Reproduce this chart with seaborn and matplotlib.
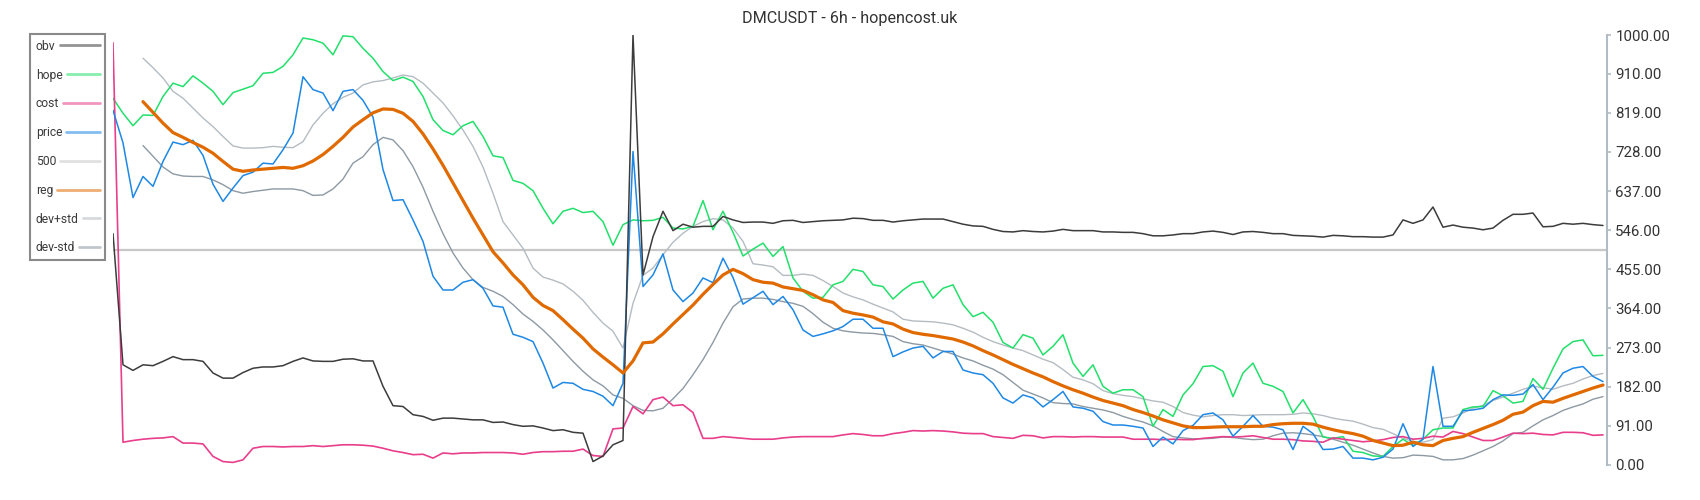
import numpy as np
import matplotlib
matplotlib.use("Agg")
import matplotlib.pyplot as plt
import seaborn as sns
from matplotlib.legend_handler import HandlerLine2D

nan = np.nan

# ---------------- data (one sample every ~2 candles) ----------------
obv = [538, 233, 220, 233, 231, 241, 252, 245, 245, 241, 214, 202, 202, 215, 225, 228, 228, 231, 241, 249, 242, 241, 241, 246, 247,
       242, 242, 183, 138, 136, 117, 113, 104, 109, 109, 107, 105, 105, 99, 100, 94, 90, 91, 86, 80, 82, 76, 74, 8, 21,
       47, 57, 1000, 442, 531, 590, 545, 560, 553, 555, 555, 578, 570, 564, 565, 565, 562, 568, 569, 564, 566, 568, 569, 570, 574,
       573, 569, 569, 565, 568, 570, 572, 572, 572, 566, 560, 556, 555, 548, 543, 542, 545, 543, 542, 544, 548, 545, 545, 545, 542,
       542, 541, 541, 538, 533, 533, 535, 538, 538, 542, 544, 541, 536, 542, 543, 541, 538, 538, 534, 533, 532, 530, 534, 533, 531,
       531, 530, 530, 535, 570, 562, 570, 600, 553, 558, 553, 551, 547, 551, 569, 583, 583, 586, 554, 555, 562, 560, 562, 559, 557]

hope = [853, 818, 789, 814, 813, 857, 888, 880, 905, 888, 869, 838, 866, 874, 882, 911, 913, 927, 954, 993, 989, 981, 954, 998, 996,
        969, 946, 915, 894, 902, 892, 857, 803, 778, 768, 789, 799, 764, 719, 715, 662, 655, 638, 597, 561, 590, 597, 587, 590, 566,
        511, 559, 570, 568, 569, 576, 551, 549, 555, 615, 547, 590, 541, 486, 502, 516, 485, 508, 435, 404, 388, 390, 419, 427, 455,
        450, 419, 415, 386, 407, 423, 427, 388, 411, 419, 373, 345, 355, 332, 285, 272, 303, 295, 256, 276, 303, 237, 206, 233, 183,
        167, 175, 175, 159, 90, 129, 113, 163, 189, 229, 231, 218, 159, 214, 237, 190, 183, 171, 121, 152, 113, 65, 62, 66, 32,
        29, 21, 20, 43, 60, 45, 60, 82, 86, 86, 129, 135, 136, 173, 161, 144, 148, 201, 176, 225, 270, 287, 291, 254, 255]

cost = [982, 53, 57, 60, 62, 63, 66, 51, 51, 49, 20, 8, 6, 12, 39, 43, 43, 42, 43, 43, 45, 43, 45, 47, 47,
        46, 44, 39, 33, 29, 24, 25, 16, 28, 26, 28, 28, 29, 29, 29, 28, 25, 29, 31, 31, 32, 32, 37, 22, 20,
        84, 86, 136, 119, 152, 158, 138, 140, 122, 62, 62, 66, 64, 62, 60, 60, 60, 63, 65, 66, 66, 66, 66, 70, 73,
        71, 68, 68, 73, 76, 80, 79, 80, 79, 77, 74, 73, 73, 66, 64, 62, 69, 68, 63, 66, 66, 65, 66, 66, 65,
        65, 65, 60, 60, 60, 59, 60, 59, 59, 62, 64, 66, 65, 66, 68, 64, 60, 60, 59, 56, 55, 53, 63, 60, 57,
        54, 56, 59, 64, 66, 60, 62, 67, 65, 78, 73, 65, 57, 57, 65, 74, 73, 74, 71, 70, 76, 76, 75, 69, 70]

price = [825, 749, 622, 671, 648, 706, 751, 745, 755, 720, 653, 613, 644, 673, 681, 702, 700, 733, 772, 903, 873, 865, 824, 869, 873,
         848, 809, 687, 615, 617, 570, 520, 439, 407, 407, 425, 431, 411, 370, 367, 304, 297, 287, 237, 179, 192, 190, 176, 171, 160,
         138, 190, 729, 415, 442, 491, 407, 380, 400, 435, 424, 481, 436, 374, 389, 404, 373, 392, 361, 314, 299, 305, 312, 322, 339,
         339, 318, 318, 252, 263, 272, 276, 249, 264, 264, 221, 214, 210, 190, 156, 144, 163, 156, 135, 152, 171, 135, 132, 125, 101,
         93, 93, 90, 86, 43, 65, 49, 80, 92, 117, 121, 105, 67, 90, 115, 90, 88, 82, 36, 90, 73, 36, 37, 43, 16,
         16, 12, 18, 37, 96, 43, 60, 229, 90, 90, 126, 128, 132, 152, 163, 162, 165, 187, 152, 181, 214, 225, 229, 206, 194]

threshold = 500

reg = [nan, nan, nan, 845, 820, 795, 773, 762, 750, 739, 725, 706, 688, 683, 686, 688, 690, 692, 690, 696, 707, 722, 741, 762, 786,
       803, 819, 828, 827, 818, 799, 770, 735, 697, 656, 615, 574, 535, 496, 470, 442, 419, 390, 371, 359, 338, 316, 295, 270, 251,
       233, 214, 242, 284, 286, 305, 328, 350, 372, 397, 420, 442, 455, 445, 431, 425, 423, 414, 410, 406, 396, 384, 378, 359, 353,
       349, 344, 333, 328, 316, 308, 304, 301, 297, 293, 286, 277, 266, 256, 245, 234, 224, 214, 205, 194, 184, 175, 167, 158, 150,
       144, 138, 129, 122, 114, 105, 98, 91, 87, 87, 88, 89, 89, 89, 90, 90, 94, 96, 97, 97, 95, 88, 82, 77, 73,
       67, 57, 51, 45, 46, 53, 47, 45, 57, 62, 66, 76, 85, 94, 104, 118, 123, 138, 148, 146, 155, 163, 171, 179, 186]

dev_plus = [nan, nan, nan, 946, 924, 900, 869, 853, 830, 807, 787, 764, 742, 737, 737, 738, 741, 739, 738, 752, 791, 818, 840, 855, 865,
            884, 891, 894, 900, 907, 903, 888, 865, 842, 812, 779, 741, 693, 632, 566, 535, 504, 458, 437, 430, 421, 404, 383, 355, 330,
            311, 272, 376, 441, 458, 489, 518, 539, 555, 566, 573, 570, 551, 520, 468, 465, 461, 441, 441, 444, 441, 429, 415, 400, 391,
            384, 374, 365, 356, 339, 335, 334, 333, 330, 326, 318, 309, 297, 287, 279, 272, 266, 256, 246, 238, 222, 204, 198, 189, 173,
            166, 162, 159, 154, 149, 146, 136, 122, 116, 112, 115, 117, 117, 115, 116, 117, 117, 117, 118, 121, 119, 115, 109, 105, 102,
            95, 87, 83, 73, 62, 55, 53, 59, 109, 112, 121, 132, 139, 150, 158, 167, 176, 183, 180, 176, 184, 190, 200, 208, 213]

dev_minus = [nan, nan, nan, 743, 718, 693, 677, 672, 671, 671, 663, 652, 638, 632, 636, 639, 642, 642, 642, 638, 627, 628, 642, 665, 702,
             717, 745, 762, 756, 731, 694, 646, 590, 538, 493, 458, 431, 413, 404, 392, 373, 351, 334, 314, 291, 266, 241, 218, 198, 184,
             163, 155, 138, 127, 126, 132, 154, 178, 210, 245, 285, 330, 368, 386, 388, 388, 385, 380, 376, 369, 352, 332, 318, 312, 309,
             307, 306, 303, 299, 287, 282, 279, 272, 265, 258, 249, 242, 232, 223, 210, 192, 174, 165, 156, 145, 143, 142, 136, 132, 128,
             122, 113, 106, 100, 91, 78, 66, 63, 61, 61, 62, 65, 64, 61, 59, 60, 68, 74, 75, 73, 70, 66, 60, 53, 46,
             37, 28, 20, 16, 17, 23, 22, 20, 12, 12, 15, 23, 33, 43, 56, 73, 76, 91, 105, 115, 127, 135, 142, 153, 159]

x = np.arange(len(price))
yticks = [0, 91, 182, 273, 364, 455, 546, 637, 728, 819, 910, 1000]
title = "DMCUSDT - 6h - hopencost.uk"

# ---------------- style ----------------
sns.set_style("white")
plt.rcParams['font.family'] = ['Roboto', 'DejaVu Sans']

fig = plt.figure(figsize=(17, 5), dpi=100)
ax = fig.add_axes([113 / 1700, 35 / 500, (1607 - 113) / 1700, 430 / 500])

# legend order: obv, hope, cost, price, 500, reg, dev+std, dev-std
sns.lineplot(x=x, y=obv, ax=ax, color='#3c3c3c', linewidth=1.1, label='obv', zorder=5)
sns.lineplot(x=x, y=hope, ax=ax, color='#22e06b', linewidth=1.1, label='hope', zorder=4)
sns.lineplot(x=x, y=cost, ax=ax, color='#e83e8c', linewidth=1.2, label='cost', zorder=4)
sns.lineplot(x=x, y=price, ax=ax, color='#1e88e5', linewidth=1.1, label='price', zorder=4)
ax.axhline(threshold, color='#c8c8c8', linewidth=1.6, label='500', zorder=2)
sns.lineplot(x=x, y=reg, ax=ax, color='#e06a00', linewidth=2.3, label='reg', zorder=6)
sns.lineplot(x=x, y=dev_plus, ax=ax, color='#b4bcc2', linewidth=1.0, label='dev+std', zorder=3)
sns.lineplot(x=x, y=dev_minus, ax=ax, color='#8d99a3', linewidth=1.0, label='dev-std', zorder=3)

ax.set_xlim(0, 149.4)
ax.set_ylim(0, 1000)
ax.set_xticks([])
ax.set_xlabel('')
ax.set_ylabel('')
ax.yaxis.tick_right()
ax.set_yticks(yticks)
ax.set_yticklabels([f"{t:.2f}" for t in yticks])
ax.tick_params(axis='y', color='#b0bcc2', labelcolor='#333333', length=3, width=1.2,
               pad=3, labelsize=10.8, left=False, right=True)
for s in ['left', 'top', 'bottom']:
    ax.spines[s].set_visible(False)
ax.spines['right'].set_color('#b0bcc2')
ax.spines['right'].set_linewidth(1.5)

# ---------------- legend: text left, swatch stretched to a common right edge ----------------
LEG_FS = 8.7
TEXTPAD = 0.35          # em
ROW_PT = 46.0           # total row width in points (text + pad + swatch)


class StretchHandler(HandlerLine2D):
    def __init__(self, width_pt, **kw):
        super().__init__(**kw)
        self.width_pt = width_pt

    def legend_artist(self, legend, orig_handle, fontsize, handlebox):
        handlebox.width = self.width_pt
        return super().legend_artist(legend, orig_handle, fontsize, handlebox)


handles, labels = ax.get_legend_handles_labels()
renderer = fig.canvas.get_renderer()
hmap = {}
for h, lab in zip(handles, labels):
    tmp = fig.text(0, 0, lab, fontsize=LEG_FS)
    w_pt = tmp.get_window_extent(renderer=renderer).width * 72.0 / fig.dpi
    tmp.remove()
    hmap[h] = StretchHandler(max(ROW_PT - w_pt - TEXTPAD * LEG_FS, 8.0))

leg = ax.legend(handles, labels, handler_map=hmap, loc='upper left',
                bbox_to_anchor=(30 / 1700, 1 - 34 / 500),
                bbox_transform=fig.transFigure, markerfirst=False, frameon=True,
                fancybox=False, borderaxespad=0, fontsize=LEG_FS, labelspacing=1.31,
                handlelength=2.0, handletextpad=TEXTPAD, borderpad=0.47)
leg.get_frame().set_edgecolor('#8a8a8a')
leg.get_frame().set_linewidth(1.5)
leg.get_frame().set_alpha(1)
for t in leg.get_texts():
    t.set_color('#3a3a3a')
for h in leg.legend_handles:
    h.set_alpha(0.55)
    h.set_linewidth(2.0)

fig.text(0.5, 1 - 19 / 500, title, ha='center', va='center', fontsize=11.6, color='#333333')

fig.savefig('out.png', dpi=100)
